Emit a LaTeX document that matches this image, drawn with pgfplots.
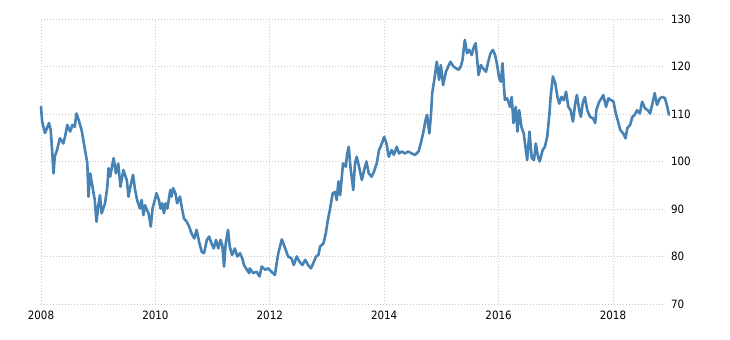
\documentclass[border=0pt]{standalone}
\usepackage{pgfplots}
\pgfplotsset{compat=1.18}
\usepackage{fontspec}
\setmainfont{DejaVu Sans Condensed}
\definecolor{linecol}{HTML}{4682B4}
\definecolor{gridcol}{HTML}{C8C8C8}
\begin{document}
\begin{tikzpicture}
\begin{axis}[
  name=ax,
  scale only axis,
  width=624bp, height=285bp,
  xmin=2008, xmax=2018.91,
  ymin=70, ymax=130,
  clip=false,
  axis line style={draw=none},
  tick style={draw=none},
  xtick={2008,2010,2012,2014,2016,2018},
  xticklabels={2008,2010,2012,2014,2016,2018},
  ytick={70,80,90,100,110,120,130},
  yticklabel pos=right,
  yticklabel style={anchor=west, xshift=2.5bp},
  xticklabel style={yshift=-3.5bp},
  /pgf/number format/assume math mode=true,
  ticklabel style={font=\fontsize{11.5}{13}\selectfont, text=black},
  grid=major,
  major grid style={draw=gridcol, line width=0.8bp, dash pattern=on 1bp off 2bp},
]
\addplot[color=linecol, line width=2.6bp, line join=round, line cap=round] table {
x y
2008.00 111.5
2008.02 108.4
2008.07 106.0
2008.14 108.1
2008.17 106.6
2008.19 103.1
2008.22 97.5
2008.24 101.0
2008.28 102.4
2008.33 104.9
2008.39 103.8
2008.42 105.2
2008.46 107.7
2008.51 106.3
2008.55 107.7
2008.59 107.3
2008.62 110.1
2008.66 108.7
2008.71 106.6
2008.75 103.8
2008.78 101.7
2008.81 99.6
2008.83 92.6
2008.86 97.5
2008.90 94.7
2008.94 91.9
2008.97 87.3
2009.00 90.5
2009.03 92.9
2009.06 89.1
2009.12 91.2
2009.16 94.7
2009.18 98.6
2009.21 96.8
2009.24 98.9
2009.27 100.7
2009.31 97.5
2009.35 99.6
2009.39 94.7
2009.44 98.2
2009.50 96.1
2009.53 92.6
2009.57 95.1
2009.61 97.2
2009.64 94.4
2009.68 91.9
2009.73 90.1
2009.76 91.9
2009.79 88.7
2009.82 90.8
2009.85 89.8
2009.88 89.1
2009.92 86.3
2009.95 90.1
2009.99 91.9
2010.02 93.3
2010.06 91.9
2010.09 90.1
2010.12 91.2
2010.15 89.1
2010.18 91.2
2010.21 90.1
2010.26 94.0
2010.28 92.6
2010.31 94.4
2010.35 93.3
2010.38 91.2
2010.43 92.6
2010.47 89.8
2010.50 88.0
2010.55 87.3
2010.59 86.3
2010.63 84.9
2010.68 83.8
2010.72 85.6
2010.77 82.8
2010.81 81.0
2010.85 80.7
2010.90 83.5
2010.94 84.2
2010.98 82.8
2011.02 81.7
2011.06 83.5
2011.10 81.7
2011.14 83.5
2011.17 82.4
2011.20 77.9
2011.23 82.8
2011.27 85.6
2011.30 82.1
2011.34 80.3
2011.39 81.7
2011.43 80.0
2011.48 80.7
2011.52 79.6
2011.55 78.2
2011.60 77.2
2011.64 76.5
2011.65 77.5
2011.71 76.5
2011.77 76.8
2011.82 75.8
2011.86 77.9
2011.92 77.2
2011.97 77.5
2012.03 76.8
2012.09 76.1
2012.12 78.6
2012.15 80.7
2012.21 83.6
2012.27 81.7
2012.32 80.0
2012.38 79.6
2012.42 78.2
2012.47 80.0
2012.52 78.9
2012.57 78.2
2012.62 79.3
2012.67 78.2
2012.72 77.5
2012.76 78.6
2012.81 80.0
2012.85 80.3
2012.88 82.1
2012.94 82.8
2012.98 84.9
2013.01 87.3
2013.05 89.8
2013.10 93.3
2013.14 93.6
2013.17 91.9
2013.20 95.8
2013.23 92.9
2013.26 96.8
2013.28 99.6
2013.33 98.9
2013.35 101.4
2013.38 103.1
2013.41 98.9
2013.46 94.0
2013.49 99.6
2013.52 101.0
2013.56 98.9
2013.61 96.1
2013.65 98.2
2013.69 100.0
2013.73 97.5
2013.78 96.8
2013.82 97.8
2013.87 99.6
2013.91 102.4
2013.96 103.8
2014.00 105.2
2014.04 103.8
2014.08 101.0
2014.13 102.4
2014.17 101.4
2014.22 103.1
2014.26 101.7
2014.31 102.1
2014.36 101.7
2014.42 102.1
2014.48 101.7
2014.54 101.4
2014.60 102.1
2014.64 103.8
2014.68 105.9
2014.73 109.1
2014.75 109.8
2014.79 105.9
2014.82 110.1
2014.84 114.4
2014.88 117.5
2014.92 121.0
2014.96 117.2
2014.99 120.3
2015.03 116.1
2015.08 118.9
2015.12 120.0
2015.16 121.0
2015.21 120.0
2015.26 119.6
2015.30 119.3
2015.34 120.0
2015.37 121.4
2015.41 125.6
2015.45 122.8
2015.49 123.5
2015.53 122.4
2015.57 124.2
2015.60 124.9
2015.65 118.2
2015.69 120.3
2015.73 119.6
2015.78 118.9
2015.82 121.0
2015.86 122.8
2015.90 123.5
2015.94 122.4
2015.98 120.0
2016.01 117.5
2016.04 116.8
2016.07 120.7
2016.09 116.5
2016.11 113.0
2016.15 113.3
2016.20 111.5
2016.23 113.6
2016.26 108.1
2016.30 111.5
2016.33 106.3
2016.36 110.8
2016.40 107.3
2016.44 105.9
2016.47 103.1
2016.50 100.3
2016.54 106.3
2016.58 100.7
2016.62 100.3
2016.65 103.8
2016.69 101.0
2016.72 100.0
2016.77 102.4
2016.81 103.1
2016.85 105.2
2016.89 110.1
2016.91 113.6
2016.95 117.9
2016.99 116.5
2017.03 113.6
2017.06 112.2
2017.10 113.6
2017.14 112.9
2017.18 114.7
2017.22 111.5
2017.26 110.8
2017.30 108.4
2017.34 112.2
2017.37 114.0
2017.41 110.8
2017.44 109.4
2017.47 112.2
2017.51 113.6
2017.55 110.8
2017.60 109.4
2017.65 109.1
2017.69 108.1
2017.71 110.8
2017.76 112.6
2017.80 113.3
2017.83 114.0
2017.88 111.5
2017.92 113.3
2017.97 112.9
2018.01 112.6
2018.05 110.1
2018.09 108.4
2018.13 106.6
2018.18 105.9
2018.22 104.9
2018.25 107.0
2018.30 107.7
2018.34 109.4
2018.38 109.8
2018.42 110.8
2018.47 110.1
2018.51 112.6
2018.56 111.2
2018.61 110.8
2018.65 110.1
2018.69 112.2
2018.73 114.4
2018.77 111.9
2018.82 113.3
2018.87 113.6
2018.91 113.3
2018.95 111.5
2018.98 109.8
};
\end{axis}
\path ([xshift=-41bp,yshift=-36bp]ax.south west) rectangle ([xshift=65bp,yshift=19bp]ax.north east);
\end{tikzpicture}
\end{document}
